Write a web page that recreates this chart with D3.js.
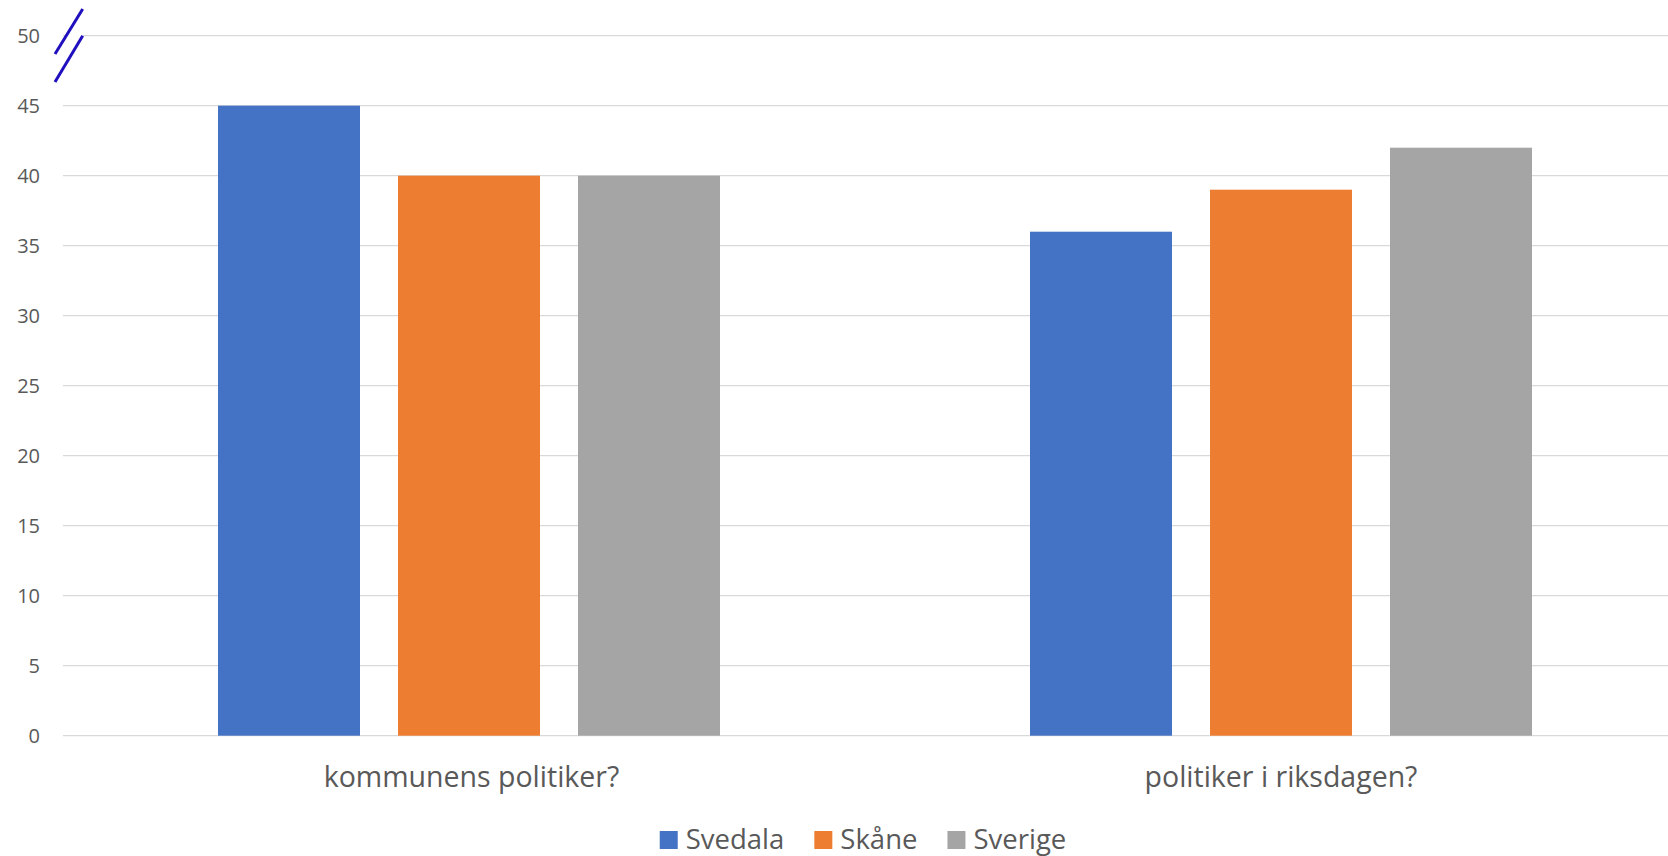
<!DOCTYPE html>
<html><head><meta charset="utf-8">
<script src="https://cdn.jsdelivr.net/npm/d3@7"></script>
<style>html,body{margin:0;padding:0;background:#fff;} svg{display:block;}</style>
</head><body>
<svg id="chart" width="1668" height="856"></svg>
<script>
const categories = ["kommunens politiker?", "politiker i riksdagen?"];
const series = ["Svedala", "Skåne", "Sverige"];
const colors = ["#4472C4", "#ED7D31", "#A5A5A5"];
const values = {
  "Svedala": [45, 36],
  "Skåne":   [40, 39],
  "Sverige": [40, 42]
};
const yTicks = [0, 5, 10, 15, 20, 25, 30, 35, 40, 45, 50];

(function () {
const svg = d3.select("#chart");
const W = 1668;
const plotLeft = 63, plotRight = 1687, plotTop = 35.7, plotBottom = 735.7;
const font = "'Open Sans', sans-serif";
const textColor = "#595959";

const y = d3.scaleLinear().domain([0, 50]).range([plotBottom, plotTop]);
const x0 = d3.scaleBand().domain(categories).range([plotLeft, plotRight]);
const x1 = d3.scaleBand().domain(series).range([155, 657]).paddingInner(38/180).paddingOuter(0);

// gridlines
svg.append("g").selectAll("line").data(yTicks).join("line")
  .attr("x1", plotLeft).attr("x2", W)
  .attr("y1", d => y(d)).attr("y2", d => y(d))
  .attr("stroke", "#D9D9D9").attr("stroke-width", 1.3);

// y tick labels
svg.append("g").selectAll("text").data(yTicks).join("text")
  .attr("x", 40).attr("y", d => y(d)).attr("dy", "0.35em")
  .attr("text-anchor", "end")
  .attr("font-family", font).attr("font-size", 20).attr("fill", textColor)
  .text(d => d);

// bars
const g = svg.append("g");
categories.forEach((c, ci) => {
  series.forEach((s, si) => {
    g.append("rect")
      .attr("x", x0(c) + x1(s))
      .attr("y", y(values[s][ci]))
      .attr("width", x1.bandwidth())
      .attr("height", y(0) - y(values[s][ci]))
      .attr("fill", colors[si]);
  });
});

// category labels
svg.append("g").selectAll("text").data(categories).join("text")
  .attr("x", (d, i) => x0(d) + (155 + 657) / 2 + (i === 0 ? 2.5 : 0))
  .attr("y", 787)
  .attr("text-anchor", "middle")
  .attr("font-family", font).attr("font-size", 28.5).attr("fill", textColor)
  .text(d => d);

// axis break marks
const brk = svg.append("g");
brk.append("polygon").attr("points", "53,56 84,6 84,34 53,84").attr("fill", "#fff");
brk.append("line").attr("x1", 55).attr("y1", 54).attr("x2", 82.7).attr("y2", 9)
  .attr("stroke", "#1F0FBF").attr("stroke-width", 3);
brk.append("line").attr("x1", 55).attr("y1", 82).attr("x2", 82.7).attr("y2", 35.7)
  .attr("stroke", "#1F0FBF").attr("stroke-width", 3);

// legend
const lg = svg.append("g");
const items = [];
series.forEach((s, i) => {
  const it = lg.append("g");
  it.append("rect").attr("x", 0).attr("y", -18).attr("width", 18).attr("height", 18).attr("fill", colors[i]);
  const t = it.append("text").attr("x", 26).attr("y", 0)
    .attr("font-family", font).attr("font-size", 27.5).attr("fill", textColor).text(s);
  const w = 26 + t.node().getComputedTextLength();
  items.push({it, w});
});
const gap = 30;
const total = items.reduce((a, b) => a + b.w, 0) + gap * (items.length - 1);
let xs = 863 - total / 2;
items.forEach(o => { o.it.attr("transform", `translate(${xs},849)`); xs += o.w + gap; });
})();
</script>
</body></html>
